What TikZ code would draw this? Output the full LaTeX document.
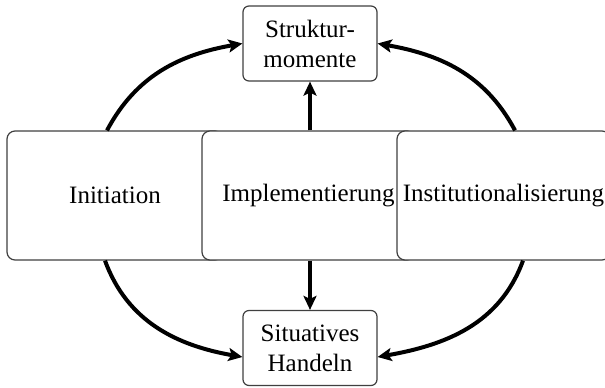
\documentclass[tikz,border=0pt]{standalone}
\usepackage{fontspec}
\setmainfont{Liberation Serif}
\usetikzlibrary{arrows.meta}
\begin{document}
\begin{tikzpicture}[x=1bp,y=1bp,
  box/.style={draw=black!75, line width=1.2bp, fill=white, rounded corners=8bp,
    inner sep=0pt, align=center, font=\fontsize{25bp}{30bp}\selectfont},
  small/.style={box, rounded corners=6bp, minimum width=134bp, minimum height=75bp},
  big/.style={box, minimum height=129bp},
  arr/.style={line width=4bp, -{Stealth[length=14bp,width=13bp,inset=3bp]}}]
\useasboundingbox (0,0) rectangle (605,387);
\node[big, minimum width=216bp] (ini) at (115,191.5) {Initiation};
\node[big, minimum width=213bp] (impl) at (308.5,191.5) {Implementierung};
\node[big, minimum width=213bp] (inst) at (503.5,191.5) {Institutionalisierung};
\node[small] (str) at (310,343.5) {Struktur-\\momente};
\node[small] (sit) at (310,39) {Situatives\\Handeln};
\draw[arr] ([xshift=-8bp]ini.north) to[out=62,in=190] (str.west);
\draw[arr] ([xshift=11.5bp]inst.north) to[out=118,in=-10] (str.east);
\draw[arr] ([xshift=-10bp]ini.south) to[out=-70,in=170] ([yshift=-9bp]sit.west);
\draw[arr] ([xshift=19.5bp]inst.south) to[out=-110,in=10] ([yshift=-9bp]sit.east);
\draw[arr] (impl.north -| str.south) -- (str.south);
\draw[arr] (impl.south -| sit.north) -- (sit.north);
\end{tikzpicture}
\end{document}
